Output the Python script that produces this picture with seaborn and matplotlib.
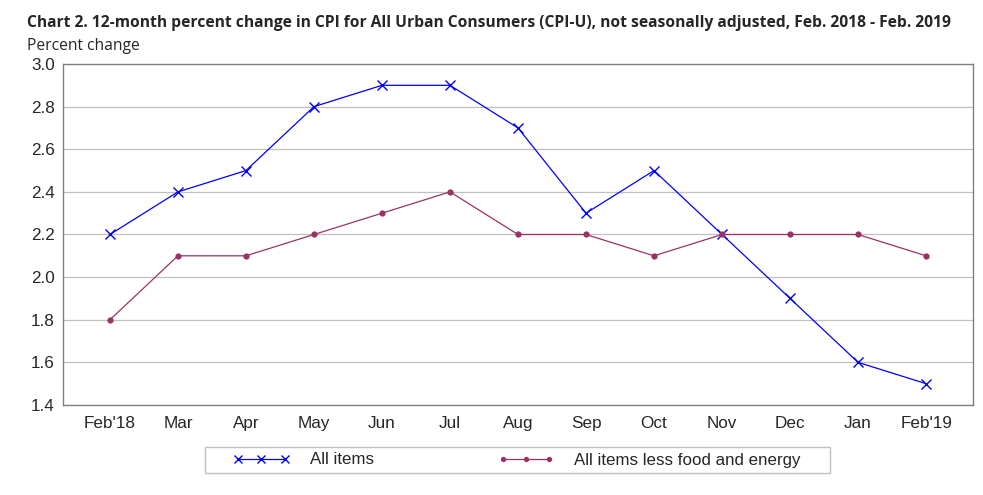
import matplotlib
matplotlib.use("Agg")
import matplotlib.pyplot as plt
from matplotlib.patches import Rectangle
import seaborn as sns
import pandas as pd

months = ["Feb'18", "Mar", "Apr", "May", "Jun", "Jul", "Aug", "Sep", "Oct", "Nov", "Dec", "Jan", "Feb'19"]
all_items = [2.2, 2.4, 2.5, 2.8, 2.9, 2.9, 2.7, 2.3, 2.5, 2.2, 1.9, 1.6, 1.5]
core = [1.8, 2.1, 2.1, 2.2, 2.3, 2.4, 2.2, 2.2, 2.1, 2.2, 2.2, 2.2, 2.1]
yticks = [1.4, 1.6, 1.8, 2.0, 2.2, 2.4, 2.6, 2.8, 3.0]

sns.set_style("white")
plt.rcParams['font.family'] = ['Liberation Sans', 'DejaVu Sans']

df = pd.DataFrame({"x": list(range(len(months))), "all": all_items, "core": core})

fig = plt.figure(figsize=(9.83, 4.95), dpi=100)
ax = fig.add_axes([63/983, 1-405/495, (973-63)/983, (405-64)/495])

sns.lineplot(data=df, x="x", y="all", ax=ax, color="#0000ff", marker="x", markersize=7,
             markeredgecolor="#0000ff", markeredgewidth=1.0, linewidth=0.9, label="All items")
sns.lineplot(data=df, x="x", y="core", ax=ax, color="#993366", marker="o", markersize=4.5,
             markeredgecolor="#993366", markeredgewidth=0, linewidth=0.9,
             label="All items less food and energy")

ax.set_xlim(-0.69, len(months) - 1 + 0.69)
ax.set_ylim(1.4, 3.0)
ax.set_yticks(yticks)
ax.set_yticklabels([f"{v:.1f}" for v in yticks], fontsize=12.3)
ax.set_xticks(range(len(months)))
ax.set_xticklabels(months, fontsize=12.3)
ax.tick_params(axis="x", direction="in", length=4, color="#808080", pad=8)
ax.tick_params(axis="y", length=0, pad=6)
ax.yaxis.grid(True, color="#c0c0c0", linewidth=0.9)
ax.set_axisbelow(True)
for s in ax.spines.values():
    s.set_color("#808080")
    s.set_linewidth(1.0)
ax.set_xlabel("")
ax.set_ylabel("")

ax.get_legend().remove()
h, l = ax.get_legend_handles_labels()
fig.patches.append(Rectangle((205/983, 1-473/495), (830-205)/983, 26/495,
                             transform=fig.transFigure, facecolor="white",
                             edgecolor="#c0c0c0", linewidth=1.0, zorder=0))
leg = fig.legend(h, l, loc="center left", bbox_to_anchor=(233/983, 1-460/495), ncol=2,
                 numpoints=3, markerscale=0.85, handlelength=3.35, columnspacing=7.3,
                 handletextpad=1.18, frameon=False, fontsize=12.2, borderpad=0, borderaxespad=0)

fig.text(27/983, 1-23/495, "Chart 2. 12-month percent change in CPI for All Urban Consumers (CPI-U), not seasonally adjusted, Feb. 2018 - Feb. 2019",
         fontsize=11.25, fontweight="bold", family=["Open Sans", "DejaVu Sans"], va="center", ha="left")
fig.text(27/983, 1-46/495, "Percent change", fontsize=11.25, family=["Open Sans", "DejaVu Sans"], va="center", ha="left")

fig.savefig("out.png", dpi=100)
